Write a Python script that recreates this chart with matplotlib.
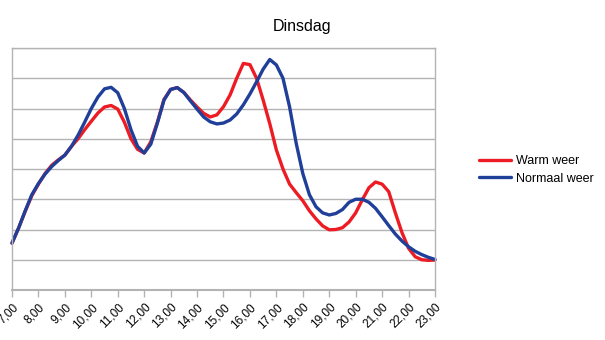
import numpy as np
import matplotlib
matplotlib.use("Agg")
import matplotlib.pyplot as plt

plt.rcParams['font.family'] = ['Liberation Sans', 'DejaVu Sans']

title = "Dinsdag"
tick_hours = list(range(7, 24))
tick_labels = [f"{h},00" for h in tick_hours]

# readings every quarter hour from 7,00 to 23,00
times = np.arange(7, 23.001, 0.25)

warm_weer = [1.55, 2.05, 2.60, 3.12, 3.50, 3.85, 4.12, 4.30,
             4.46, 4.75, 5.00, 5.30, 5.58, 5.85, 6.05, 6.10,
             5.98, 5.55, 5.00, 4.65, 4.53, 4.90, 5.55, 6.30,
             6.63, 6.69, 6.53, 6.28, 6.05, 5.84, 5.72, 5.79,
             6.06, 6.45, 7.00, 7.49, 7.45, 7.00, 6.28, 5.50,
             4.63, 4.00, 3.50, 3.22, 2.95, 2.62, 2.35, 2.12,
             1.99, 2.00, 2.06, 2.25, 2.55, 2.98, 3.38, 3.57,
             3.50, 3.25, 2.55, 1.90, 1.38, 1.10, 1.00, 0.98,
             0.99]

normaal_weer = [1.55, 2.05, 2.62, 3.15, 3.52, 3.83, 4.08, 4.28,
                4.46, 4.75, 5.12, 5.55, 6.00, 6.38, 6.65, 6.70,
                6.52, 6.00, 5.30, 4.75, 4.53, 4.82, 5.52, 6.28,
                6.63, 6.69, 6.53, 6.25, 5.98, 5.72, 5.56, 5.49,
                5.52, 5.62, 5.82, 6.12, 6.48, 6.88, 7.30, 7.62,
                7.44, 7.00, 6.05, 4.85, 3.85, 3.15, 2.75, 2.55,
                2.48, 2.53, 2.66, 2.90, 3.00, 3.00, 2.90, 2.70,
                2.42, 2.13, 1.85, 1.62, 1.43, 1.28, 1.17, 1.08,
                1.01]

series_names = ["Warm weer", "Normaal weer"]
colors = ["#ED1C24", "#1F3F99"]

fig = plt.figure(figsize=(6.05, 3.4), dpi=100)
ax = fig.add_axes([12/605, 50/340, (435-12)/605, (290-48)/340])

for vals, name, c in zip([warm_weer, normaal_weer], series_names, colors):
    ax.plot(times, vals, color=c, lw=2.4, label=name,
            solid_joinstyle='round', solid_capstyle='round', clip_on=False)

ax.set_xlim(7, 23)
ax.set_ylim(0, 8)
ax.set_yticks(np.arange(0, 9, 1))
ax.set_yticklabels([])
ax.tick_params(axis='y', length=0)
ax.grid(axis='y', color='#b3b3b3', lw=1)
ax.set_axisbelow(True)

ax.set_xticks(tick_hours)
ax.set_xticklabels(tick_labels, rotation=45, ha='right', va='top',
                   rotation_mode='anchor', fontsize=8.5)
ax.tick_params(axis='x', length=5, width=1, color='#b3b3b3', pad=3)

for s in ['left', 'right', 'top']:
    ax.spines[s].set_color('#b3b3b3')
    ax.spines[s].set_linewidth(1)
ax.spines['bottom'].set_color('#b3b3b3')
ax.spines['bottom'].set_linewidth(1.5)

fig.text(0.5, 1 - 26/340, title, ha='center', va='center', fontsize=11.5)

handles, labels = ax.get_legend_handles_labels()
fig.legend(handles, labels, loc='center left', bbox_to_anchor=(468/605, 1 - 170/340),
           frameon=False, fontsize=9, handlelength=2.5, handletextpad=0.4,
           labelspacing=0.4)

fig.savefig("out.png", dpi=100)
